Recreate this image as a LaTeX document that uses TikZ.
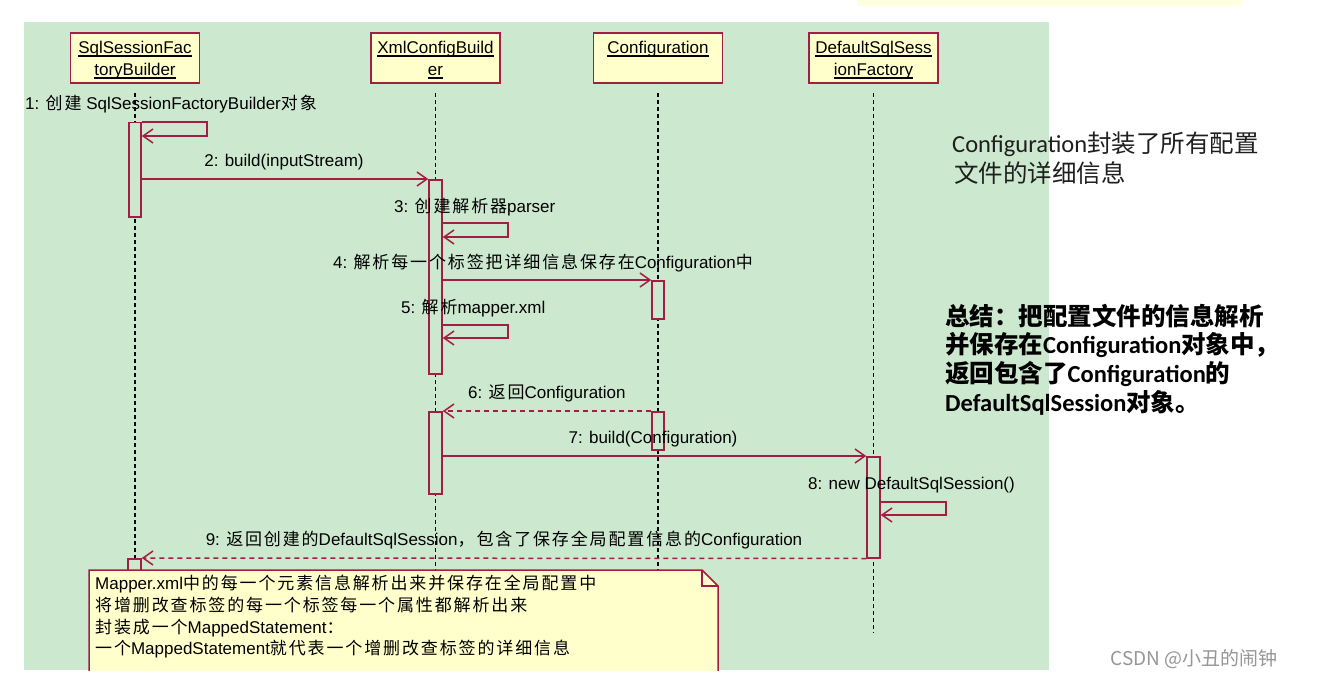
\documentclass[tikz,border=0pt]{standalone}
\usepackage{fontspec}
\setmainfont{Liberation Sans}
\newfontfamily\zhf{Noto Sans CJK SC}[LetterSpace=11]
\newfontfamily\zhr{Noto Sans CJK SC}
\newfontfamily\carl{Carlito}
\usetikzlibrary{arrows.meta}
\definecolor{bg}{RGB}{204,232,207}
\definecolor{uml}{RGB}{163,30,68}
\definecolor{noteyel}{RGB}{255,255,204}
\definecolor{topyel}{RGB}{255,255,224}
\definecolor{wm}{RGB}{150,150,150}
\newcommand\zh[1]{{\zhf #1}}
\newcommand\zr[1]{{\zhr #1}}
\newcommand\ulx[1]{\setbox0\hbox{#1}\rlap{\rule[-2.6pt]{\wd0}{1.1pt}}\box0}
\begin{document}
\begin{tikzpicture}[x=1pt,y=-1pt,
  head/.style={draw=uml, line width=1.4pt, fill=noteyel, minimum width=129pt, minimum height=50pt, inner sep=0pt},
  htext/.style={inner sep=0pt, anchor=base, font=\fontsize{17}{22}\selectfont},
  life/.style={draw=black, line width=1.3pt, dash pattern=on 4pt off 3pt},
  act/.style={draw=uml, line width=1.5pt, fill=bg, minimum width=12pt, inner sep=0pt, anchor=north},
  msg/.style={draw=uml, line width=1.5pt, -{Straight Barb[length=10pt,width=14pt]}},
  ret/.style={msg, dash pattern=on 5pt off 4pt},
  lbl/.style={inner sep=0pt, font=\fontsize{17}{20}\selectfont, text=black},
  notetxt/.style={inner sep=0pt, anchor=base west, font=\fontsize{17}{20}\selectfont, text=black},
  rtxt/.style={inner sep=0pt, anchor=base west, font=\carl\fontsize{24.5}{29}\selectfont, text=black!88},
  btxt/.style={inner sep=0pt, anchor=base west, font=\carl\bfseries\fontsize{24.5}{29}\selectfont, text=black},
]
\useasboundingbox (0,0) rectangle (1327,698);
\fill[white] (0,0) rectangle (1327,698);
\fill[topyel] (857,0) rectangle (1241,6);
\fill[bg] (24,22) rectangle (1049,670);

% headers
\node[head] (h1) at (135,58) {};
\node[head] (h2) at (435.5,58) {};
\node[head] (h3) at (658,58) {};
\node[head] (h4) at (873.5,58) {};
\node[htext] (h1a) at (135,54) {\ulx{SqlSessionFac}};
\node[htext] (h1b) at (135,76) {\ulx{toryBuilder}};
\node[htext] (h2a) at (435.5,54) {\ulx{XmlConfigBuild}};
\node[htext] (h2b) at (435.5,76) {\ulx{er}};
\node[htext] (h3a) at (658,54) {\ulx{Configuration}};
\node[htext] (h4a) at (873.5,54) {\ulx{DefaultSqlSess}};
\node[htext] (h4b) at (873.5,76) {\ulx{ionFactory}};

% lifeline ends
\coordinate (e1) at (135,580);
\coordinate (e2) at (435.5,580);
\coordinate (e3) at (658,580);
\coordinate (e4) at (873.5,633);
\draw[life] (h1.south |- 0,93) -- (e1);
\draw[life] (h2.south |- 0,93) -- (e2);
\draw[life] (h3.south |- 0,93) -- (e3);
\draw[life] (h4.south |- 0,93) -- (e4);

% activations
\node[act, minimum height=94pt] (a1) at (135,122) {};
\node[act, minimum height=194pt, minimum width=13pt] (b1) at (435.5,179) {};
\node[act, minimum height=38pt] (c1) at (658,280) {};
\node[act, minimum height=82pt, minimum width=13pt] (b2) at (435.5,411) {};
\node[act, minimum height=38pt] (c2) at (658,411) {};
\node[act, minimum height=101pt, minimum width=13pt] (d1) at (873.5,456) {};
\node[act, minimum height=20pt, minimum width=13pt] (a2) at (134.5,558) {};

% self calls
\coordinate (s1a) at (207,122);
\coordinate (s1b) at (207,136);
\draw[msg] (a1.north east) -- (s1a) -- (s1b) -- (a1.east |- s1b);
\coordinate (s3a) at (508,223);
\coordinate (s3b) at (508,237);
\draw[msg] (b1.east |- s3a) -- (s3a) -- (s3b) -- (b1.east |- s3b);
\coordinate (s5a) at (508,325);
\coordinate (s5b) at (508,338);
\draw[msg] (b1.east |- s5a) -- (s5a) -- (s5b) -- (b1.east |- s5b);
\coordinate (s8a) at (946,502);
\coordinate (s8b) at (946,515);
\draw[msg] (d1.east |- s8a) -- (s8a) -- (s8b) -- (d1.east |- s8b);

% messages
\draw[msg] (a1.east |- b1.north) -- (b1.north west);
\draw[msg] (b1.east |- c1.north) -- (c1.north west);
\draw[ret] (c2.north west) -- (b2.north east);
\draw[msg] (b2.east |- d1.north) -- (d1.north west);
\draw[ret] (d1.south west) -- (a2.north east);

% labels
\node[lbl, anchor=base west] (l1) at (25,110) {1: \zh{创建} SqlSessionFactoryBuilder\zh{对象}};
\node[lbl, anchor=base] (l2) at (284,166) {2: build(inputStream)};
\node[lbl, anchor=base west] (l3) at (394,212) {3: \zh{创建解析器}parser};
\node[lbl, anchor=base] (l4) at (543,268) {4: \zh{解析每一个标签把详细信息保存在}Configuration\zh{中}};
\node[lbl, anchor=base west] (l5) at (401,313) {5: \zh{解析}mapper.xml};
\node[lbl, anchor=base west] (l6) at (468,398) {6: \zh{返回}Configuration};
\node[lbl, anchor=base] (l7) at (653,443) {7: build(Configuration)};
\node[lbl, anchor=base west] (l8) at (808,489) {8: new DefaultSqlSession()};
\node[lbl, anchor=base] (l9) at (504,545) {9: \zh{返回创建的}DefaultSqlSession\zh{，包含了保存全局配置信息的}Configuration};

% note
\begin{scope}
\clip (0,0) rectangle (1327,670);
\path[fill=noteyel, draw=uml, line width=1.5pt] (89,675) -- (89,570) -- (702,570) -- (718,586) -- (718,675);
\draw[uml, line width=1.5pt] (702,570) -- (702,586) -- (718,586);
\end{scope}
\node[notetxt] (n1) at (95,589) {Mapper.xml\zh{中的每一个元素信息解析出来并保存在全局配置中}};
\node[notetxt] (n2) at (95,611) {\zh{将增删改查标签的每一个标签每一个属性都解析出来}};
\node[notetxt] (n3) at (95,633) {\zh{封装成一个}MappedStatement\zh{：}};
\node[notetxt] (n4) at (95,654) {\zh{一个}MappedStatement\zh{就代表一个增删改查标签的详细信息}};

% right texts
\node[rtxt] (r1) at (952,153) {Configuration\zr{封装了所有配置}};
\node[rtxt] (r2) at (954,182) {\zr{文件的详细信息}};
\node[btxt] (b1t) at (945,325) {\zr{总结：把配置文件的信息解析}};
\node[btxt] (b2t) at (945,353) {\zr{并保存在}Configuration\zr{对象中，}};
\node[btxt] (b3t) at (945,382) {\zr{返回包含了}Configuration\zr{的}};
\node[btxt] (b4t) at (945,411) {DefaultSqlSession\zr{对象。}};

% watermark
\node[inner sep=0pt, anchor=base, font=\zhr\fontsize{19}{22}\selectfont, text=wm] (wmk) at (1194,665) {CSDN @小丑的闹钟};
\end{tikzpicture}
\end{document}
